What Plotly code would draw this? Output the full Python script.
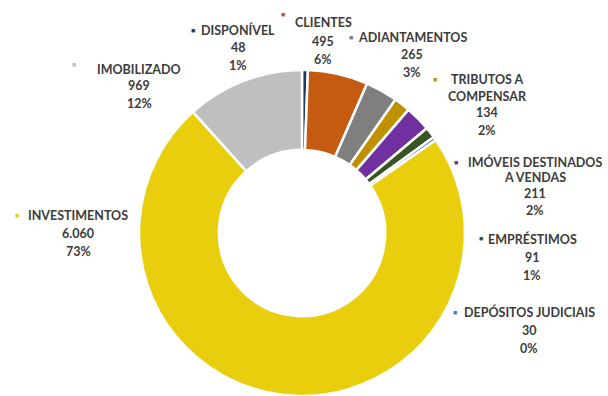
import plotly.graph_objects as go

# Asset composition (values in thousands)
categories = ["DISPONÍVEL", "CLIENTES", "ADIANTAMENTOS", "TRIBUTOS A<br>COMPENSAR",
              "IMÓVEIS DESTINADOS<br>A VENDAS", "EMPRÉSTIMOS", "DEPÓSITOS JUDICIAIS",
              "INVESTIMENTOS", "IMOBILIZADO"]
values = [48, 495, 265, 134, 211, 91, 30, 6060, 969]
percent_labels = ["1%", "6%", "3%", "2%", "2%", "1%", "0%", "73%", "12%"]
colors = ["#1F3864", "#C55A11", "#7F7F7F", "#BF9000", "#7030A0",
          "#375623", "#4472C4", "#E9CE0E", "#BFBFBF"]

W, H = 608, 396
CX, CY, R = 302, 233, 163

# label block placement in pixels: marker (x, y), text centre x, first line y, line gap(s)
label_pos = [
    dict(mx=193, my=30, tx=238, ty=30, gaps=[17.5]),
    dict(mx=283, my=15, tx=323, ty=23, gaps=[18]),
    dict(mx=351, my=38, tx=412, ty=38, gaps=[17]),
    dict(mx=435, my=79, tx=487, ty=79, gaps=[17, 16.5, 17.5]),
    dict(mx=456, my=162, tx=535, ty=162, gaps=[15, 16, 17]),
    dict(mx=481, my=239, tx=532, ty=239, gaps=[18]),
    dict(mx=455, my=312, tx=529, ty=312, gaps=[18]),
    dict(mx=17, my=216, tx=78, ty=216, gaps=[17.5]),
    dict(mx=74, my=64, tx=139, ty=69, gaps=[17]),
]


def fmt_num(v):
    return f"{v:,}".replace(",", ".")


fig = go.Figure(go.Pie(
    labels=[c.replace("<br>", " ") for c in categories],
    values=values,
    sort=False,
    direction="clockwise",
    rotation=0,
    hole=0.51,
    marker=dict(colors=colors, line=dict(color="white", width=2.5)),
    textinfo="none",
    hoverinfo="label+value+percent",
    domain=dict(x=[(CX - R) / W, (CX + R) / W], y=[0, 2 * R / H]),
    showlegend=False,
))

annotations = []
for cat, val, pct, col, p in zip(categories, values, percent_labels, colors, label_pos):
    lines = cat.split("<br>") + [fmt_num(val), pct]
    gaps = p["gaps"]
    y = p["ty"]
    for i, line in enumerate(lines):
        annotations.append(dict(
            x=p["tx"] / W, y=1 - y / H, xref="paper", yref="paper",
            xanchor="center", yanchor="middle",
            text=f"<b>{line}</b>", showarrow=False,
            font=dict(family="Lato", size=12.5, color="#3c3c3c"),
        ))
        y += gaps[min(i, len(gaps) - 1)]
    annotations.append(dict(
        x=p["mx"] / W, y=1 - p["my"] / H, xref="paper", yref="paper",
        xanchor="center", yanchor="middle",
        text="■", showarrow=False,
        font=dict(size=7, color=col),
    ))

fig.update_layout(
    width=W, height=H,
    margin=dict(l=0, r=0, t=0, b=0),
    paper_bgcolor="white",
    plot_bgcolor="white",
    annotations=annotations,
)

fig.write_html("out.html")
